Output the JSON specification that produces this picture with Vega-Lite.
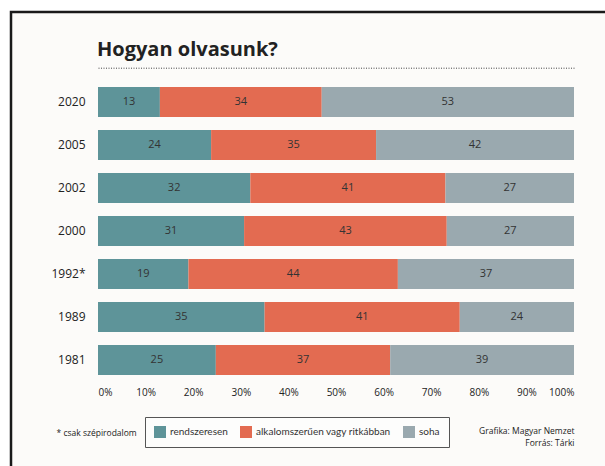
{
  "$schema": "https://vega.github.io/schema/vega-lite/v6.json",
  "autosize": "none",
  "width": 600,
  "height": 460,
  "padding": {"left": 11, "top": 12, "right": 0, "bottom": 0},
  "background": "#ffffff",
  "config": {
    "view": {"stroke": "#1a1a1a", "strokeWidth": 2.5, "fill": "#fcfbf9"},
    "font": "Open Sans"
  },
  "title": {
    "text": "Hogyan olvasunk?",
    "anchor": "start",
    "frame": "group",
    "orient": "top",
    "font": "Open Sans",
    "fontSize": 20,
    "fontWeight": "bold",
    "color": "#222222",
    "baseline": "alphabetic",
    "offset": -64,
    "dx": 86
  },
  "data": {
    "values": [
      {"year": "2020", "cat": "rendszeresen", "k": 1, "v": 13},
      {"year": "2020", "cat": "alkalomszerűen vagy ritkábban", "k": 2, "v": 34},
      {"year": "2020", "cat": "soha", "k": 3, "v": 53},
      {"year": "2005", "cat": "rendszeresen", "k": 1, "v": 24},
      {"year": "2005", "cat": "alkalomszerűen vagy ritkábban", "k": 2, "v": 35},
      {"year": "2005", "cat": "soha", "k": 3, "v": 42},
      {"year": "2002", "cat": "rendszeresen", "k": 1, "v": 32},
      {"year": "2002", "cat": "alkalomszerűen vagy ritkábban", "k": 2, "v": 41},
      {"year": "2002", "cat": "soha", "k": 3, "v": 27},
      {"year": "2000", "cat": "rendszeresen", "k": 1, "v": 31},
      {"year": "2000", "cat": "alkalomszerűen vagy ritkábban", "k": 2, "v": 43},
      {"year": "2000", "cat": "soha", "k": 3, "v": 27},
      {"year": "1992*", "cat": "rendszeresen", "k": 1, "v": 19},
      {"year": "1992*", "cat": "alkalomszerűen vagy ritkábban", "k": 2, "v": 44},
      {"year": "1992*", "cat": "soha", "k": 3, "v": 37},
      {"year": "1989", "cat": "rendszeresen", "k": 1, "v": 35},
      {"year": "1989", "cat": "alkalomszerűen vagy ritkábban", "k": 2, "v": 41},
      {"year": "1989", "cat": "soha", "k": 3, "v": 24},
      {"year": "1981", "cat": "rendszeresen", "k": 1, "v": 25},
      {"year": "1981", "cat": "alkalomszerűen vagy ritkábban", "k": 2, "v": 37},
      {"year": "1981", "cat": "soha", "k": 3, "v": 39}
    ]
  },
  "encoding": {
    "y": {
      "field": "year",
      "type": "nominal",
      "sort": ["2020", "2005", "2002", "2000", "1992*", "1989", "1981"],
      "scale": {"range": [68.5, 369.5], "paddingInner": 0.3, "paddingOuter": 0.15},
      "axis": {
        "title": null,
        "orient": "left",
        "offset": -87,
        "domain": false,
        "ticks": false,
        "labelPadding": 13,
        "labelFontSize": 12,
        "labelColor": "#222222",
        "labelFont": "Open Sans"
      }
    },
    "order": {"field": "k", "type": "quantitative"}
  },
  "layer": [
    {
      "mark": {"type": "bar"},
      "encoding": {
        "x": {
          "field": "v",
          "type": "quantitative",
          "stack": "normalize",
          "scale": {"domain": [0, 1], "range": [87, 563], "nice": false, "zero": false},
          "axis": {
            "orient": "bottom",
            "offset": -90.5,
            "values": [0, 0.1, 0.2, 0.3, 0.4, 0.5, 0.6, 0.7, 0.8, 0.9, 1],
            "format": ".0%",
            "grid": false,
            "domain": false,
            "ticks": false,
            "labelPadding": 6,
            "labelFontSize": 10,
            "labelColor": "#222222",
            "labelFont": "Open Sans",
            "title": "* csak szépirodalom",
            "titleX": 45,
            "titleY": 50.5,
            "titleAlign": "left",
            "titleBaseline": "middle",
            "titleFontSize": 8.5,
            "titleFontWeight": "normal",
            "titleColor": "#222222",
            "titleFont": "Open Sans"
          }
        },
        "color": {
          "field": "cat",
          "type": "nominal",
          "scale": {
            "domain": ["rendszeresen", "alkalomszerűen vagy ritkábban", "soha"],
            "range": ["#5e9499", "#e36b51", "#9aa9af"]
          },
          "legend": {
            "orient": "none",
            "legendX": 134,
            "legendY": 405,
            "direction": "horizontal",
            "title": null,
            "strokeColor": "#555555",
            "fillColor": "#fdfdfc",
            "padding": 9,
            "symbolType": "square",
            "symbolSize": 144,
            "symbolStrokeWidth": 0,
            "symbolOpacity": 1,
            "labelFontSize": 10,
            "labelFont": "Lato",
            "labelColor": "#333333",
            "labelOffset": 4,
            "columnPadding": 12
          }
        }
      }
    },
    {
      "mark": {"type": "text", "fontSize": 11, "color": "#333333", "font": "Open Sans"},
      "encoding": {
        "x": {
          "field": "v",
          "type": "quantitative",
          "stack": "normalize",
          "bandPosition": 0.5,
          "axis": {
            "orient": "top",
            "offset": -55.7,
            "labels": false,
            "ticks": false,
            "grid": false,
            "domain": true,
            "domainDash": [1, 1.5],
            "domainColor": "#444444",
            "domainWidth": 1,
            "title": ["Grafika: Magyar Nemzet", "Forrás: Tárki"],
            "titleX": 563,
            "titleY": 359,
            "titleAlign": "right",
            "titleBaseline": "top",
            "titleLineHeight": 12,
            "titleFontSize": 8.5,
            "titleFontWeight": "normal",
            "titleColor": "#222222",
            "titleFont": "Open Sans"
          }
        },
        "detail": {"field": "cat", "type": "nominal"},
        "text": {"field": "v", "type": "quantitative"}
      }
    }
  ],
  "resolve": {"axis": {"x": "independent"}}
}
